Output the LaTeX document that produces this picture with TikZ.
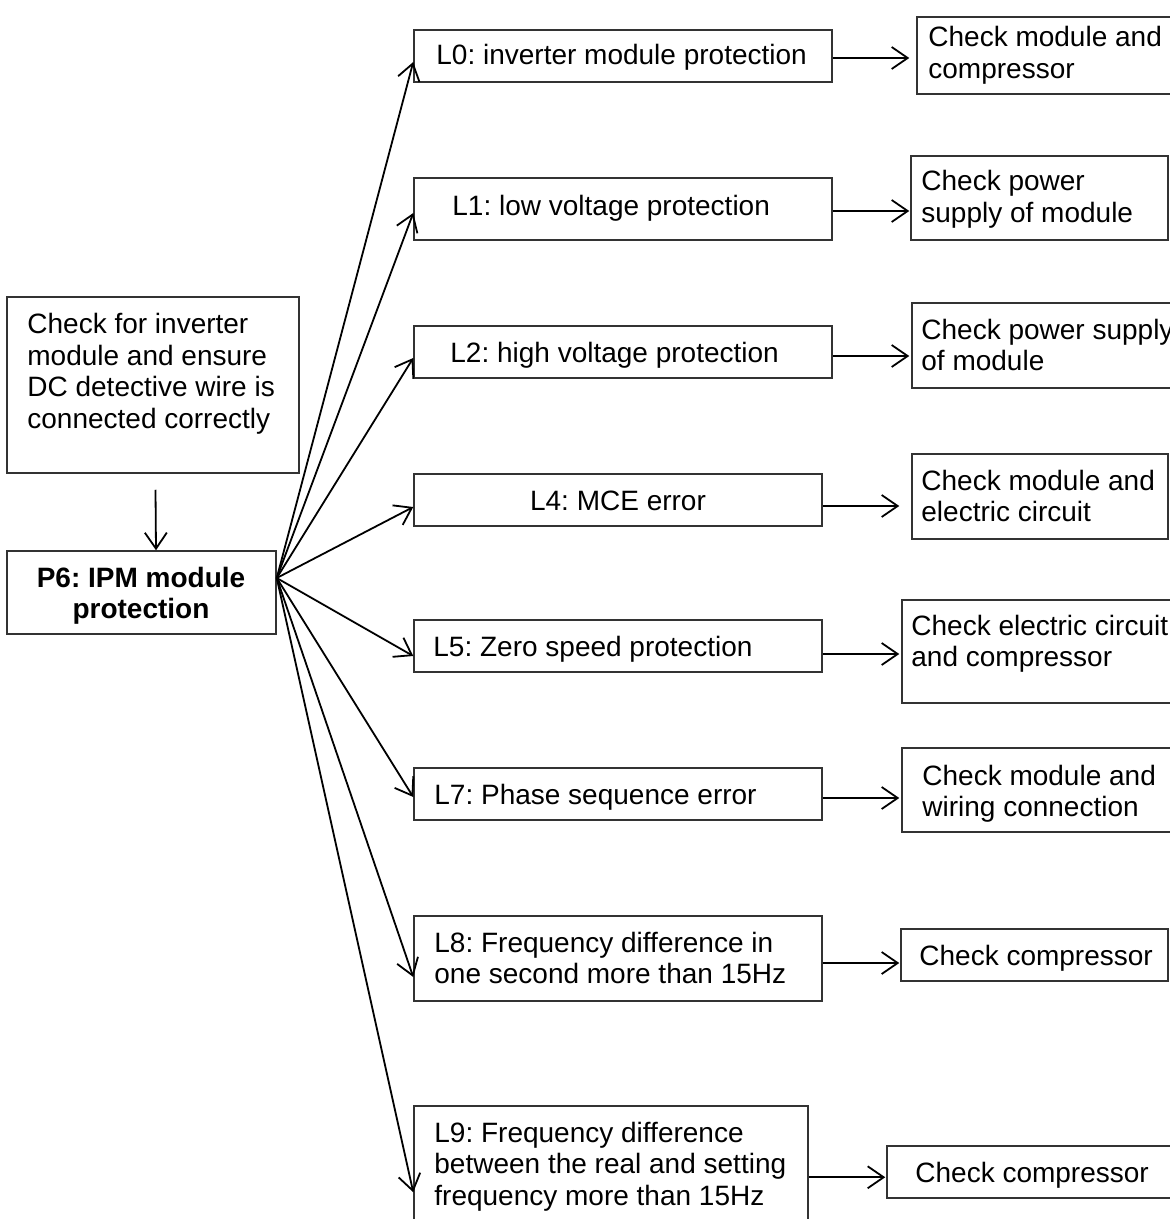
\documentclass[tikz,border=0pt]{standalone}
\usepackage{fontspec}
\setmainfont{Liberation Sans}
\usetikzlibrary{arrows.meta,fit,calc}
\newcommand\mltext[2][l]{\begin{tabular}[t]{@{}#1@{}}#2\end{tabular}}
\frenchspacing
\begin{document}
\begin{tikzpicture}[x=0.5pt,y=-0.5pt,
  box/.style={draw=black!80, line width=0.75pt, inner sep=0pt},
  txt/.style={inner sep=0pt, anchor=base west, font=\fontsize{14}{15.75}\selectfont},
  ctxt/.style={txt, anchor=base},
  arr/.style={draw=black, line width=0.9pt, -{Straight Barb[length=8pt,width=11pt,line width=0.9pt]}}]
\useasboundingbox (0,0) rectangle (1170,1219);

% left column
\node[box, fit={(7,297)(299,473)}] (tl) {};
\node[txt] (tlt) at (27,334) {\mltext{Check for inverter\\module and ensure\\DC detective wire is\\connected correctly}};
\node[box, fit={(7,551)(276,634)}] (p6) {};
\node[ctxt, font=\fontsize{14}{15.75}\selectfont\bfseries] (p6t) at (141,587) {\mltext[c]{P6: IPM module\\protection}};

% middle column
\node[box, fit={(414,30)(832,82)}] (l0) {};
\node[txt] (l0t) at (436,65) {L0: inverter module protection};
\node[box, fit={(414,178)(832,240)}] (l1) {};
\node[txt] (l1t) at (452,216) {L1: low voltage protection};
\node[box, fit={(414,326)(832,378)}] (l2) {};
\node[txt] (l2t) at (450,362) {L2: high voltage protection};
\node[box, fit={(414,474)(822,526)}] (l4) {};
\node[ctxt] (l4t) at (618,510) {L4: MCE error};
\node[box, fit={(414,620)(822,672)}] (l5) {};
\node[txt] (l5t) at (433,656) {L5: Zero speed protection};
\node[box, fit={(414,768)(822,820)}] (l7) {};
\node[txt] (l7t) at (434,804) {L7: Phase sequence error};
\node[box, fit={(414,916)(822,1001)}] (l8) {};
\node[txt] (l8t) at (434,952) {\mltext{L8: Frequency difference in\\one second more than 15Hz}};
\node[box, fit={(414,1106)(808,1240)}] (l9) {};
\node[txt] (l9t) at (434,1142) {\mltext{L9: Frequency difference\\between the real and setting\\frequency more than 15Hz}};

% right column
\node[box, fit={(917,17)(1180,94)}] (r0) {};
\node[txt] (r0t) at (928,47) {\mltext{Check module and\\compressor}};
\node[box, fit={(911,156)(1168,240)}] (r1) {};
\node[txt] (r1t) at (921,191) {\mltext{Check power\\supply of module}};
\node[box, fit={(912,303)(1180,388)}] (r2) {};
\node[txt] (r2t) at (921,339) {\mltext{Check power supply\\of module}};
\node[box, fit={(912,454)(1168,539)}] (r4) {};
\node[txt] (r4t) at (921,490) {\mltext{Check module and\\electric circuit}};
\node[box, fit={(902,600)(1180,703)}] (r5) {};
\node[txt] (r5t) at (911,635) {\mltext{Check electric circuit\\and compressor}};
\node[box, fit={(902,748)(1180,832)}] (r7) {};
\node[txt] (r7t) at (922,785) {\mltext{Check module and\\wiring connection}};
\node[box, fit={(901,929)(1168,981)}] (r8) {};
\node[txt] (r8t) at (919,965) {Check compressor};
\node[box, fit={(887,1146)(1180,1198)}] (r9) {};
\node[txt] (r9t) at (915,1182) {Check compressor};

% connectors
\draw[arr] ($(tl.south)+(2.5,16)$) -- ($(p6.north)+(14.5,0)$);
\coordinate (fan) at ($(p6.east)+(0,-14.5)$);
\draw[arr] (fan) -- ($(l0.west)+(0,6)$);
\draw[arr] (fan) -- ($(l1.west)+(0,4)$);
\draw[arr] (fan) -- ($(l2.west)+(0,6)$);
\draw[arr] (fan) -- ($(l4.west)+(0,7)$);
\draw[arr] (fan) -- ($(l5.west)+(0,10)$);
\draw[arr] (fan) -- ($(l7.west)+(0,3)$);
\draw[arr] (fan) -- ($(l8.west)+(0,18.5)$);
\draw[arr] (fan) -- ($(l9.north west)+(0,87)$);

\draw[arr] ($(l0.east)+(0,2)$) -- ($(l0.east -| r0.west)+(-7,2)$);
\draw[arr] ($(l1.east)+(0,2)$) -- ($(l1.east -| r1.west)+(-1,2)$);
\draw[arr] ($(l2.east)+(0,4)$) -- ($(l2.east -| r2.west)+(-2,4)$);
\draw[arr] ($(l4.east)+(0,6)$) -- ($(l4.east -| r4.west)+(-12,6)$);
\draw[arr] ($(l5.east)+(0,8)$) -- ($(l5.east -| r5.west)+(-2,8)$);
\draw[arr] ($(l7.east)+(0,4)$) -- ($(l7.east -| r7.west)+(-2,4)$);
\draw[arr] ($(l8.east)+(0,4.5)$) -- ($(l8.east -| r8.west)+(-1,4.5)$);
\draw[arr] ($(l9.north east)+(0,72)$) -- ($(l9.north east -| r9.west)+(-1,72)$);
\end{tikzpicture}
\end{document}
